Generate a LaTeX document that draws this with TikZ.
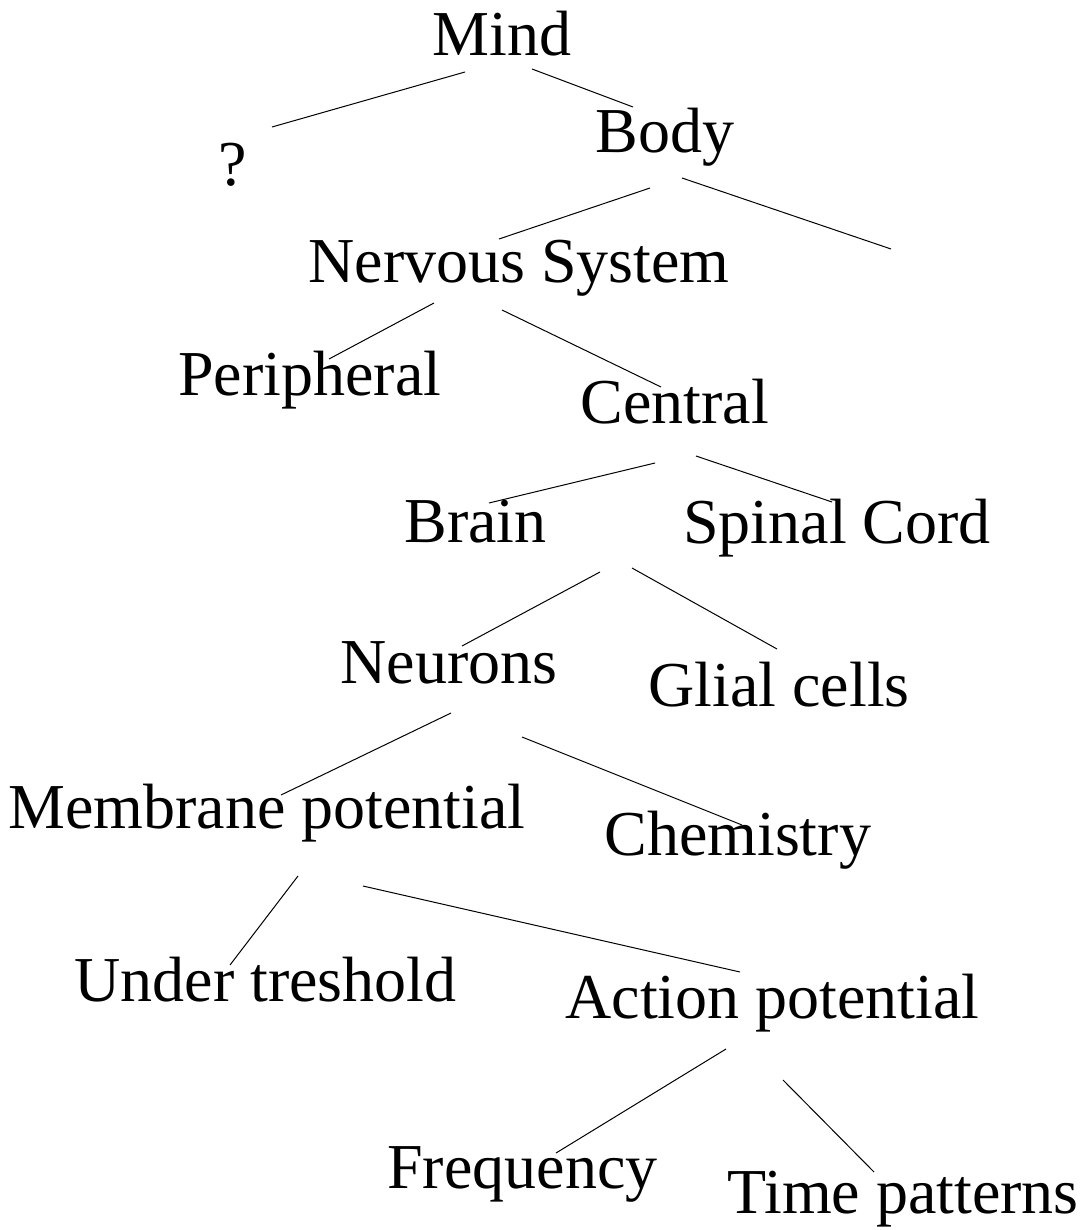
\documentclass[tikz,border=0pt]{standalone}
\usepackage{fontspec}
\setmainfont{Liberation Serif}
\usepackage{tikz}

\begin{document}
\begin{tikzpicture}[
    x=0.5pt,y=-0.5pt,
    term/.style={anchor=base west,inner sep=0pt,font=\fontsize{32}{38}\selectfont},
    branch/.style={line width=0.5pt,black}
  ]
    \useasboundingbox (0,0) rectangle (1083,1230);
    \node[term] (mind) at (432,56) {Mind};
    \node[term] (unknown) at (218,186) {?};
    \node[term] (body) at (595,153) {Body};
    \coordinate (blank) at (891,249);
    \node[term] (nervous) at (308,282) {Nervous System};
    \node[term] (periph) at (178,395) {Peripheral};
    \node[term] (central) at (580,423) {Central};
    \node[term] (brain) at (404,542) {Brain};
    \node[term] (spinal) at (683,543) {Spinal Cord};
    \node[term] (neurons) at (340,683) {Neurons};
    \node[term] (glial) at (648,706) {Glial cells};
    \node[term] (membrane) at (8,828) {Membrane potential};
    \node[term] (chem) at (604,855) {Chemistry};
    \node[term] (under) at (74,1001) {Under treshold};
    \node[term] (action) at (565,1018) {Action potential};
    \node[term] (freq) at (387,1188) {Frequency};
    \node[term] (timepat) at (727,1213) {Time patterns};
    \draw[branch] ([shift={(33,16)}]mind.base west) -- ([shift={(54,-59)}]unknown.base west);
    \draw[branch] ([shift={(100,13)}]mind.base west) -- ([shift={(38,-46)}]body.base west);
    \draw[branch] ([shift={(55,35)}]body.base west) -- ([shift={(191,-43)}]nervous.base west);
    \draw[branch] ([shift={(87,25)}]body.base west) -- (blank);
    \draw[branch] ([shift={(126,21)}]nervous.base west) -- ([shift={(151,-36)}]periph.base west);
    \draw[branch] ([shift={(194,28)}]nervous.base west) -- ([shift={(81,-36)}]central.base west);
    \draw[branch] ([shift={(75,40)}]central.base west) -- ([shift={(85,-39)}]brain.base west);
    \draw[branch] ([shift={(116,33)}]central.base west) -- ([shift={(149,-41)}]spinal.base west);
    \draw[branch] ([shift={(196,30)}]brain.base west) -- ([shift={(122,-37)}]neurons.base west);
    \draw[branch] ([shift={(228,26)}]brain.base west) -- ([shift={(129,-57)}]glial.base west);
    \draw[branch] ([shift={(111,30)}]neurons.base west) -- ([shift={(273,-33)}]membrane.base west);
    \draw[branch] ([shift={(182,54)}]neurons.base west) -- ([shift={(138,-30)}]chem.base west);
    \draw[branch] ([shift={(290,48)}]membrane.base west) -- ([shift={(156,-36)}]under.base west);
    \draw[branch] ([shift={(355,58)}]membrane.base west) -- ([shift={(175,-46)}]action.base west);
    \draw[branch] ([shift={(161,31)}]action.base west) -- ([shift={(169,-35)}]freq.base west);
    \draw[branch] ([shift={(218,62)}]action.base west) -- ([shift={(147,-41)}]timepat.base west);
  \end{tikzpicture}
\end{document}
